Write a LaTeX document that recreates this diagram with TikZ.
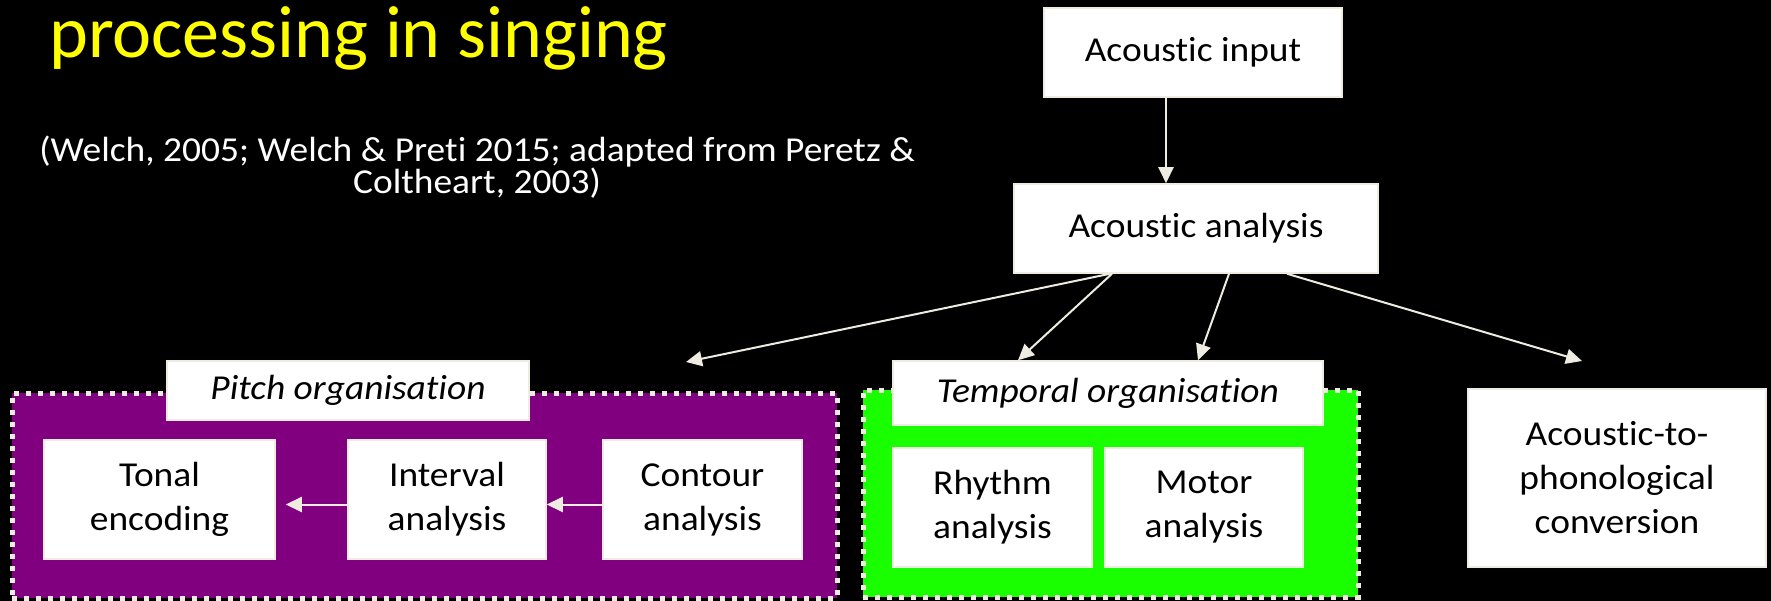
\documentclass[tikz,border=0pt]{standalone}
\usepackage{fontspec}
\setmainfont{Carlito}[FakeStretch=1.07, Ligatures=NoCommon]
\newfontfamily\titlefont{Carlito}
\usetikzlibrary{arrows.meta,positioning,calc}
\definecolor{cLine}{HTML}{EEECE1}
\definecolor{cPitch}{HTML}{800080}
\definecolor{cTime}{HTML}{1AFF00}
\definecolor{cTitle}{HTML}{FFFF00}
\tikzset{
  box/.style      = {draw=cLine, line width=1.5pt, fill=white, text=black,
                     align=center, inner sep=0pt,
                     font=\fontsize{35}{44}\selectfont},
  grplabel/.style = {box, font=\fontsize{35}{44}\selectfont\itshape},
  group/.style    = {draw=cLine, line width=5pt, dash pattern=on 5pt off 7pt,
                     inner sep=0pt},
  flow/.style     = {-{Triangle[length=16pt,width=15pt]}, draw=cLine,
                     line width=2pt},
}

\begin{document}
\begin{tikzpicture}[x=1pt,y=-1pt]
  % background, fixes the page
  \fill[black] (0,0) rectangle (1771,601);
  \useasboundingbox (0,0) rectangle (1771,601);
  % heading and source
  \node[anchor=base west, inner sep=0pt, text=cTitle,
        font=\titlefont\fontsize{74}{80}\selectfont] (title) at (49,58)
    {processing in singing};
  \node[anchor=base, inner sep=0pt, text=white, align=center,
        font=\fontsize{35}{25}\selectfont] (cite) at (477,194)
    {(Welch, 2005; Welch \& Preti 2015; adapted from Peretz \&\\
     Coltheart, 2003)};
  % top of the chain
  \node[box, minimum width=298pt, minimum height=89pt] (input)
    at (1193,52.5) {Acoustic input};
  \node[box, minimum width=364pt, minimum height=89pt] (analysis)
    at (1196,228.5) {Acoustic analysis};
  % pitch organisation
  \node[group, fill=cPitch, minimum width=825pt, minimum height=205pt]
    (pitch) at (424.5,495.5) {};
  \node[grplabel, minimum width=362pt, minimum height=59pt] (pitchlbl)
    at (348,390.5) {Pitch organisation};
  \node[box, minimum width=231pt, minimum height=119pt] (tonal)
    at (159.5,499.5) {Tonal\\ encoding};
  \node[box, minimum width=198pt, minimum height=119pt] (interval)
    at (447,499.5) {Interval\\ analysis};
  \node[box, minimum width=199pt, minimum height=119pt] (contour)
    at (702.5,499.5) {Contour\\ analysis};
  % temporal organisation
  \node[group, fill=cTime, minimum width=495pt, minimum height=207pt]
    (temporal) at (1110.5,493.5) {};
  \node[grplabel, minimum width=430pt, minimum height=64pt] (templbl)
    at (1108,393) {Temporal organisation};
  \node[box, minimum width=199pt, minimum height=119pt] (rhythm)
    at (992.5,507.5) {Rhythm\\ analysis};
  \node[box, minimum width=198pt, minimum height=119pt] (motor)
    at (1204,507.5) {Motor\\ analysis};
  % phonology
  \node[box, minimum width=298pt, minimum height=178pt] (convert)
    at (1617,478) {Acoustic-to-\\ phonological\\ conversion};
  % free arrow ends
  \coordinate (pitchin) at (686,362);
  \coordinate (convin) at (1582,361);
  % flows
  \draw[flow] ([xshift=-27pt]input.south) -- ([xshift=-27pt]input.south |- analysis.north);
  \draw[flow] ([xshift=-86pt]analysis.south) -- (pitchin);
  \draw[flow] ([xshift=-84pt]analysis.south) -- ([xshift=-90pt]templbl.north);
  \draw[flow] ([xshift=33pt]analysis.south) -- ([xshift=90pt]templbl.north);
  \draw[flow] ([xshift=91pt]analysis.south) -- (convin);
  \draw[flow] ([yshift=-5pt]interval.west) -- ([xshift=10pt,yshift=-5pt]tonal.east);
  \draw[flow] ([yshift=-5pt]contour.west) -- ([yshift=-5pt]interval.east);
\end{tikzpicture}
\end{document}
